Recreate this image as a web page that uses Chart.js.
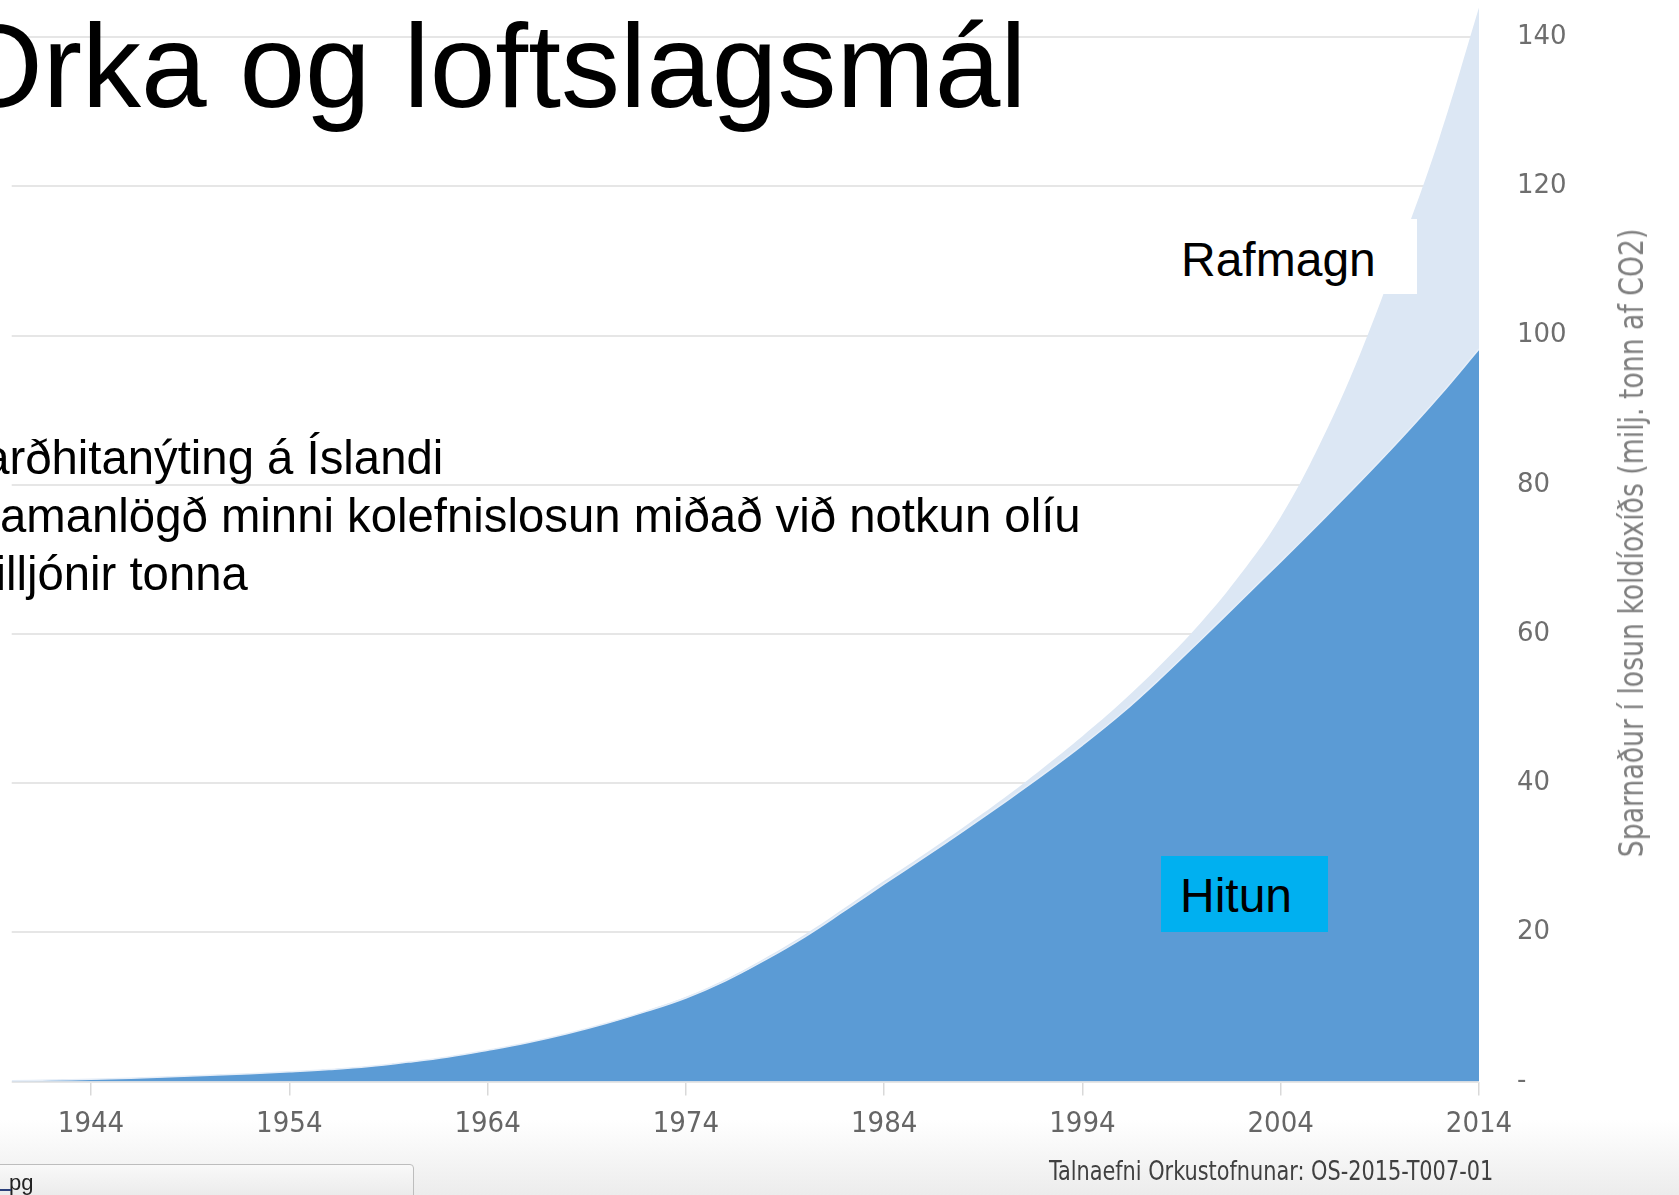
<!DOCTYPE html>
<html>
<head>
<meta charset="utf-8">
<style>
  body {
    margin: 0;
    width: 1679px;
    height: 1195px;
    overflow: hidden;
    position: relative;
    background: linear-gradient(#ffffff 0, #ffffff 1120px, #ececec 1195px);
    font-family: "Liberation Sans", Arial, sans-serif;
  }
  #wrap {
    position: absolute;
    left: 0;
    top: 0;
    width: 1679px;
    height: 1195px;
  }
  .title {
    position: absolute;
    left: -49px;
    top: 7px;
    font-size: 118px;
    line-height: 1;
    color: #000;
    white-space: nowrap;
  }
  .bullet {
    position: absolute;
    font-size: 47.3px;
    line-height: 1;
    color: #000;
    white-space: nowrap;
  }
  .tag {
    position: absolute;
    font-size: 48px;
    line-height: 1;
    color: #000;
    box-sizing: border-box;
    padding-left: 19px;
    padding-top: 17px;
  }
  .tag.el { left: 1162px; top: 219px; width: 255px; height: 75px; background: #fff; }
  .tag.heat { left: 1161px; top: 856px; width: 167px; height: 76px; background: #00b0f0; padding-top: 16px; }
  .ytitle {
    position: absolute;
    left: 1631px;
    top: 543px;
    transform: translate(-50%, -50%) rotate(-90deg) scaleX(0.873);
    font-family: "DejaVu Sans Condensed", sans-serif;
    font-size: 34px;
    color: #7f7f7f;
    white-space: nowrap;
  }
  .source {
    position: absolute;
    left: 1049px;
    top: 1156px;
    transform-origin: 0 50%;
    transform: scaleX(0.858);
    font-family: "DejaVu Sans Condensed", sans-serif;
    font-size: 27px;
    line-height: 1.1;
    color: #404040;
    white-space: nowrap;
  }
  .tab {
    position: absolute;
    left: -6px;
    top: 1164px;
    width: 420px;
    height: 44px;
    box-sizing: border-box;
    border: 1px solid #bdbdbd;
    border-radius: 4px;
    background: linear-gradient(#f9f9f9, #e6e6e6);
    font-family: "Liberation Sans", Arial, sans-serif;
    font-size: 22px;
    color: #222;
    padding: 5px 0 0 14px;
  }
  .tabline {
    position: absolute;
    left: 0;
    top: 1189px;
    width: 11px;
    height: 2px;
    background: #2b3f7a;
  }
</style>
</head>
<body>
  <div id="wrap"><canvas id="co2Chart"></canvas></div>

  <div class="title">Orka og loftslagsmál</div>
  <div class="bullet" style="top: 434px; left: -40.5px">Jarðhitanýting á Íslandi</div>
  <div class="bullet" style="top: 492px; left: -31.5px">Samanlögð minni kolefnislosun miðað við notkun olíu</div>
  <div class="bullet" style="top: 550px; left: -44px">milljónir tonna</div>

  <div class="tag el">Rafmagn</div>
  <div class="tag heat">Hitun</div>

  <div class="ytitle">Sparnaður í losun koldíoxíðs (milj. tonn af CO2)</div>
  <div class="source">Talnaefni Orkustofnunar: OS-2015-T007-01</div>
  <div class="tab">pg</div>
  <div class="tabline"></div>

  <script src="https://cdn.jsdelivr.net/npm/chart.js"></script>
  <script>
    // cumulative savings, million tonnes CO2
    const years = [
      1940, 1942, 1944, 1946, 1948, 1950, 1952, 1954, 1956, 1958,
      1960, 1962, 1964, 1966, 1968, 1970, 1972, 1974, 1976, 1978,
      1980, 1982, 1984, 1986, 1988, 1990, 1992, 1994, 1996, 1998,
      2000, 2002, 2004, 2006, 2008, 2010, 2012, 2014
    ];
    const hitun = [
      0.1, 0.2, 0.3, 0.45, 0.65, 0.85, 1.05, 1.3, 1.6, 2.0,
      2.6, 3.3, 4.2, 5.2, 6.4, 7.8, 9.4, 11.2, 13.5, 16.3,
      19.4, 22.9, 26.5, 30.0, 33.6, 37.3, 41.1, 45.1, 49.4, 54.2,
      59.3, 64.5, 69.7, 75.0, 80.4, 86.0, 91.9, 98.2
    ];
    const rafmagn = [
      0, 0, 0, 0, 0, 0, 0, 0, 0, 0,
      0, 0, 0, 0, 0, 0.05, 0.1, 0.15, 0.2, 0.25,
      0.3, 0.35, 0.4, 0.45, 0.5, 0.6, 0.9, 1.2, 1.5, 1.8,
      2.3, 3.6, 6.0, 10.6, 17.1, 25.5, 34.6, 45.8
    ];
    const xTickYears = [1944, 1954, 1964, 1974, 1984, 1994, 2004, 2014];
    const yTickValues = [0, 20, 40, 60, 80, 100, 120, 140];

    const toPoints = (vals) => years.map((yr, i) => ({ x: yr, y: vals[i] }));

    const ctx = document.getElementById("co2Chart").getContext("2d");
    const co2Chart = new Chart(ctx, {
      type: "line",
      data: {
        datasets: [
          {
            label: "Hitun",
            data: toPoints(hitun),
            fill: "origin",
            backgroundColor: "#5b9bd5",
            borderColor: "#e6eef8",
            borderWidth: 1.5,
            pointRadius: 0,
            tension: 0.4,
          },
          {
            label: "Rafmagn",
            data: toPoints(rafmagn),
            fill: "-1",
            backgroundColor: "#dce7f4",
            borderWidth: 0,
            pointRadius: 0,
            tension: 0.4,
          },
        ],
      },
      options: {
        responsive: true,
        maintainAspectRatio: false,
        animation: false,
        layout: {
          autoPadding: false,
          padding: { left: 11.7, top: 0, right: 0, bottom: 0 },
        },
        plugins: {
          legend: { display: false },
          tooltip: { enabled: false },
        },
        scales: {
          x: {
            type: "linear",
            min: 1940,
            max: 2014,
            afterBuildTicks: (scale) => {
              scale.ticks = xTickYears.map((v) => ({ value: v }));
            },
            afterFit: (scale) => {
              scale.height = 113.5;
              scale.paddingLeft = 0;
              scale.paddingRight = 0;
            },
            grid: {
              drawOnChartArea: false,
              drawTicks: true,
              tickLength: 14,
              color: "#d9d9d9",
              lineWidth: 1.5,
            },
            border: { display: false },
            ticks: {
              padding: 12,
              maxRotation: 0,
              autoSkip: false,
              color: "#666666",
              font: { family: "'DejaVu Sans Condensed', sans-serif", size: 29 },
              callback: (v) => String(v),
            },
          },
          y: {
            position: "right",
            stacked: true,
            min: 0,
            max: 145,
            afterBuildTicks: (scale) => {
              scale.ticks = yTickValues.map((v) => ({ value: v }));
            },
            afterFit: (scale) => {
              scale.width = 200;
              scale.paddingTop = 0;
              scale.paddingBottom = 0;
            },
            grid: {
              drawTicks: false,
              color: "#e6e6e6",
              lineWidth: 2,
            },
            border: { display: false },
            ticks: {
              padding: 38,
              color: "#6e6e6e",
              font: { family: "'DejaVu Sans', sans-serif", size: 26 },
              callback: (v) => (v === 0 ? "-" : v),
            },
          },
        },
      },
    });
  </script>
</body>
</html>
